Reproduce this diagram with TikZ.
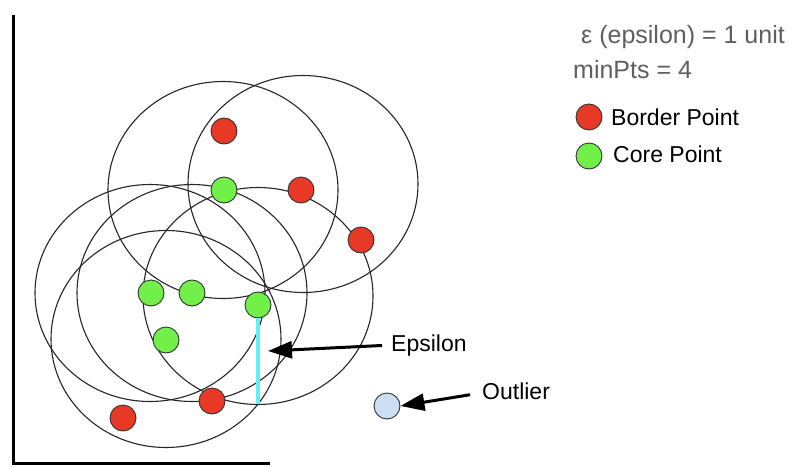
\documentclass[tikz,border=0pt]{standalone}
\usepackage{fontspec}
\setmainfont{Liberation Sans}
\usetikzlibrary{arrows.meta}

\definecolor{bordercol}{RGB}{232,56,38}
\definecolor{corecol}{RGB}{112,240,72}
\definecolor{outliercol}{RGB}{204,222,242}
\definecolor{epscol}{RGB}{100,238,250}
\definecolor{notecol}{RGB}{95,95,95}

\tikzset{
  reach/.style={draw=black!85, line width=1.1pt},
  pt/.style={circle, draw=black!80, line width=0.9pt, minimum size=26pt, inner sep=0pt},
  borderpt/.style={pt, fill=bordercol},
  corept/.style={pt, fill=corecol},
  outlierpt/.style={pt, fill=outliercol},
  lbl/.style={inner sep=0pt, anchor=base west, font=\fontsize{23}{27}\selectfont},
  note/.style={inner sep=0pt, anchor=base west, text=notecol, font=\fontsize{25}{29}\selectfont},
  pointer/.style={line width=3pt, -{Triangle[length=24pt,width=17pt]}},
  axis/.style={line width=3pt, line join=miter}
}

\begin{document}
\begin{tikzpicture}[x=1pt, y=-1pt]
  \fill[white] (0,0) rectangle (795,466);
  \useasboundingbox (0,0) rectangle (795,466);

  % axes
  \draw[axis] (13,15) -- (13,463) -- (270,463);

  % epsilon neighbourhoods
  \foreach \cx/\cy in {223/190, 303/184, 150/293, 192/293, 166/339, 258/296}
    \draw[reach] (\cx,\cy) ellipse [x radius=115pt, y radius=108.5pt];

  % core points
  \node[corept] (c1) at (224,190) {};
  \node[corept] (c2) at (151,293) {};
  \node[corept] (c3) at (192,293) {};
  \node[corept] (c4) at (258,305) {};
  \node[corept] (c5) at (166,340) {};

  % epsilon radius marker
  \coordinate (epsEnd) at (258,404);
  \draw[epscol, line width=4pt] (c4.south) -- (epsEnd);

  % border points
  \node[borderpt] (b1) at (224,131) {};
  \node[borderpt] (b2) at (301,190) {};
  \node[borderpt] (b3) at (361,240) {};
  \node[borderpt] (b4) at (212,401) {};
  \node[borderpt] (b5) at (123,418) {};

  % outlier
  \node[outlierpt] (o1) at (387,406) {};

  % annotations
  \node[lbl] (epsLbl) at (391,351) {Epsilon};
  \node[lbl] (outLbl) at (482,399) {Outlier};
  \coordinate (epsTip) at (268,351);
  \draw[pointer, shorten <=9pt] (epsLbl.west) -- (epsTip);
  \draw[pointer, shorten <=12pt] ([yshift=-2pt]outLbl.west) -- (o1.east);

  % legend
  \node[note] (epsNote) at (581,43) {ε (epsilon) = 1 unit};
  \node[note] (minNote) at (573,78) {minPts = 4};
  \node[borderpt] (legB) at (589,117) {};
  \node[corept] (legC) at (589,156) {};
  \node[lbl] (legBLbl) at (611,125) {Border Point};
  \node[lbl] (legCLbl) at (613,162) {Core Point};
\end{tikzpicture}
\end{document}
